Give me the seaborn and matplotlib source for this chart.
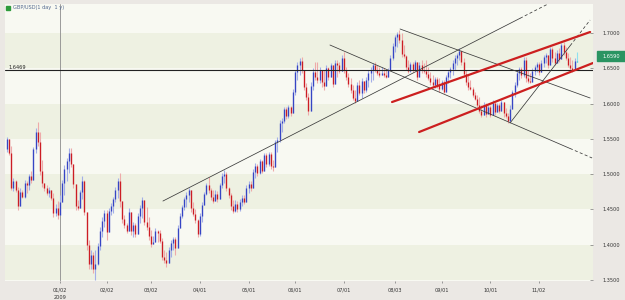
import matplotlib
matplotlib.use("Agg")
import matplotlib.pyplot as plt
import numpy as np
import pandas as pd
import seaborn as sns

# daily GBP/USD bars, 2008-12-01 .. 2009-11-25 (open = previous close)
first_open = 1.535
close = [
    1.550, 1.530, 1.480, 1.490, 1.477, 1.455, 1.475, 1.468, 1.488, 1.485,
    1.497, 1.492, 1.535, 1.560, 1.545, 1.505, 1.488, 1.480, 1.474, 1.478,
    1.466, 1.445, 1.452, 1.442, 1.461, 1.488, 1.508, 1.518, 1.530, 1.514,
    1.486, 1.455, 1.452, 1.475, 1.490, 1.447, 1.400, 1.372, 1.385, 1.365,
    1.372, 1.398, 1.420, 1.433, 1.445, 1.418, 1.448, 1.455, 1.465, 1.478,
    1.490, 1.462, 1.437, 1.428, 1.420, 1.447, 1.420, 1.428, 1.415, 1.440,
    1.452, 1.463, 1.432, 1.425, 1.412, 1.401, 1.404, 1.419, 1.416, 1.405,
    1.383, 1.378, 1.374, 1.393, 1.402, 1.408, 1.396, 1.424, 1.441, 1.453,
    1.465, 1.470, 1.478, 1.452, 1.444, 1.435, 1.415, 1.440, 1.456, 1.472,
    1.485, 1.478, 1.468, 1.462, 1.472, 1.465, 1.484, 1.497, 1.500, 1.480,
    1.470, 1.455, 1.448, 1.458, 1.450, 1.460, 1.466, 1.461, 1.480, 1.486,
    1.481, 1.503, 1.512, 1.502, 1.518, 1.505, 1.527, 1.514, 1.528, 1.512,
    1.510, 1.545, 1.549, 1.573, 1.576, 1.592, 1.583, 1.595, 1.586, 1.617,
    1.645, 1.655, 1.660, 1.647, 1.623, 1.609, 1.590, 1.625, 1.645, 1.638,
    1.633, 1.647, 1.630, 1.625, 1.650, 1.637, 1.654, 1.628, 1.658, 1.655,
    1.646, 1.665, 1.647, 1.637, 1.628, 1.619, 1.608, 1.604, 1.626, 1.615,
    1.632, 1.619, 1.633, 1.644, 1.648, 1.655, 1.648, 1.644, 1.641, 1.643,
    1.641, 1.638, 1.647, 1.665, 1.682, 1.694, 1.698, 1.690, 1.670, 1.668,
    1.652, 1.646, 1.656, 1.648, 1.659, 1.637, 1.655, 1.647, 1.646, 1.642,
    1.636, 1.630, 1.627, 1.635, 1.626, 1.620, 1.630, 1.617, 1.638, 1.645,
    1.649, 1.658, 1.665, 1.669, 1.675, 1.659, 1.642, 1.630, 1.623, 1.621,
    1.612, 1.607, 1.598, 1.590, 1.584, 1.598, 1.585, 1.595, 1.584, 1.601,
    1.588, 1.598, 1.590, 1.602, 1.586, 1.583, 1.575, 1.593, 1.616, 1.627,
    1.644, 1.649, 1.640, 1.662, 1.636, 1.632, 1.631, 1.646, 1.652, 1.656,
    1.645, 1.658, 1.666, 1.669, 1.654, 1.677, 1.664, 1.658, 1.672, 1.663,
    1.683, 1.673, 1.665, 1.655, 1.651, 1.648, 1.661, 1.659,
]
high = [
    1.552, 1.545, 1.540, 1.494, 1.492, 1.482, 1.480, 1.478, 1.492, 1.490,
    1.500, 1.505, 1.539, 1.565, 1.574, 1.560, 1.520, 1.488, 1.484, 1.482,
    1.478, 1.474, 1.458, 1.462, 1.470, 1.492, 1.513, 1.523, 1.537, 1.537,
    1.513, 1.485, 1.464, 1.478, 1.497, 1.492, 1.445, 1.407, 1.392, 1.390,
    1.392, 1.403, 1.425, 1.439, 1.449, 1.449, 1.452, 1.459, 1.468, 1.482,
    1.495, 1.502, 1.459, 1.442, 1.431, 1.452, 1.435, 1.432, 1.431, 1.445,
    1.456, 1.468, 1.446, 1.453, 1.439, 1.421, 1.413, 1.424, 1.421, 1.421,
    1.410, 1.392, 1.390, 1.397, 1.407, 1.411, 1.411, 1.428, 1.445, 1.456,
    1.468, 1.475, 1.480, 1.465, 1.460, 1.450, 1.437, 1.445, 1.461, 1.475,
    1.488, 1.496, 1.480, 1.478, 1.478, 1.476, 1.487, 1.501, 1.506, 1.503,
    1.482, 1.473, 1.463, 1.463, 1.462, 1.465, 1.470, 1.470, 1.484, 1.490,
    1.490, 1.508, 1.516, 1.515, 1.521, 1.520, 1.530, 1.530, 1.532, 1.531,
    1.520, 1.548, 1.553, 1.577, 1.580, 1.595, 1.595, 1.598, 1.597, 1.620,
    1.648, 1.659, 1.665, 1.666, 1.648, 1.629, 1.615, 1.630, 1.650, 1.659,
    1.659, 1.652, 1.648, 1.648, 1.655, 1.652, 1.658, 1.652, 1.662, 1.662,
    1.659, 1.669, 1.673, 1.652, 1.643, 1.636, 1.626, 1.619, 1.630, 1.633,
    1.636, 1.630, 1.638, 1.648, 1.652, 1.658, 1.659, 1.655, 1.652, 1.652,
    1.650, 1.648, 1.650, 1.669, 1.686, 1.697, 1.701, 1.704, 1.700, 1.683,
    1.669, 1.662, 1.659, 1.659, 1.662, 1.659, 1.659, 1.662, 1.657, 1.662,
    1.652, 1.645, 1.641, 1.638, 1.638, 1.636, 1.633, 1.633, 1.641, 1.648,
    1.652, 1.662, 1.669, 1.672, 1.679, 1.676, 1.665, 1.648, 1.641, 1.633,
    1.624, 1.617, 1.612, 1.609, 1.598, 1.602, 1.601, 1.598, 1.598, 1.605,
    1.601, 1.601, 1.601, 1.605, 1.601, 1.594, 1.587, 1.598, 1.619, 1.630,
    1.648, 1.652, 1.652, 1.666, 1.666, 1.648, 1.643, 1.650, 1.655, 1.659,
    1.659, 1.662, 1.669, 1.672, 1.669, 1.680, 1.680, 1.673, 1.676, 1.679,
    1.686, 1.687, 1.680, 1.672, 1.666, 1.662, 1.665, 1.673,
]
low = [
    1.531, 1.527, 1.478, 1.476, 1.475, 1.449, 1.462, 1.466, 1.466, 1.474,
    1.478, 1.488, 1.494, 1.530, 1.540, 1.499, 1.482, 1.476, 1.470, 1.468,
    1.463, 1.439, 1.440, 1.437, 1.442, 1.463, 1.470, 1.490, 1.502, 1.510,
    1.481, 1.449, 1.449, 1.453, 1.465, 1.442, 1.392, 1.365, 1.366, 1.360,
    1.350, 1.371, 1.392, 1.411, 1.425, 1.407, 1.428, 1.442, 1.445, 1.461,
    1.466, 1.453, 1.431, 1.424, 1.417, 1.421, 1.414, 1.411, 1.411, 1.421,
    1.431, 1.438, 1.428, 1.421, 1.407, 1.397, 1.402, 1.405, 1.404, 1.402,
    1.378, 1.374, 1.368, 1.378, 1.383, 1.392, 1.386, 1.400, 1.424, 1.438,
    1.449, 1.453, 1.461, 1.447, 1.440, 1.431, 1.411, 1.412, 1.432, 1.456,
    1.470, 1.473, 1.463, 1.459, 1.462, 1.461, 1.467, 1.480, 1.488, 1.476,
    1.466, 1.449, 1.445, 1.447, 1.446, 1.448, 1.455, 1.458, 1.465, 1.474,
    1.476, 1.488, 1.495, 1.498, 1.500, 1.502, 1.510, 1.510, 1.512, 1.508,
    1.505, 1.525, 1.532, 1.546, 1.560, 1.573, 1.578, 1.580, 1.582, 1.588,
    1.612, 1.633, 1.641, 1.643, 1.619, 1.605, 1.584, 1.598, 1.619, 1.633,
    1.629, 1.629, 1.624, 1.619, 1.631, 1.633, 1.638, 1.623, 1.640, 1.638,
    1.643, 1.648, 1.643, 1.633, 1.624, 1.615, 1.605, 1.601, 1.605, 1.612,
    1.608, 1.615, 1.616, 1.624, 1.631, 1.633, 1.645, 1.641, 1.638, 1.641,
    1.638, 1.636, 1.638, 1.648, 1.662, 1.673, 1.680, 1.686, 1.666, 1.665,
    1.648, 1.643, 1.645, 1.645, 1.650, 1.633, 1.638, 1.643, 1.644, 1.638,
    1.633, 1.626, 1.624, 1.622, 1.622, 1.616, 1.619, 1.615, 1.626, 1.629,
    1.636, 1.641, 1.648, 1.655, 1.662, 1.655, 1.638, 1.626, 1.619, 1.619,
    1.609, 1.605, 1.595, 1.587, 1.581, 1.584, 1.581, 1.588, 1.581, 1.587,
    1.584, 1.588, 1.587, 1.591, 1.581, 1.580, 1.572, 1.575, 1.595, 1.609,
    1.624, 1.633, 1.636, 1.638, 1.631, 1.629, 1.629, 1.633, 1.641, 1.645,
    1.641, 1.648, 1.652, 1.658, 1.650, 1.655, 1.659, 1.655, 1.658, 1.659,
    1.666, 1.669, 1.662, 1.652, 1.648, 1.645, 1.648, 1.659,
]

tick_dates = ["2009-01-02", "2009-02-02", "2009-03-02", "2009-04-01", "2009-05-01",
              "2009-06-01", "2009-07-01", "2009-08-03", "2009-09-01", "2009-10-01",
              "2009-11-02"]
tick_labels = ["01/02", "02/02", "03/02", "04/01", "05/01", "06/01", "07/01",
               "08/03", "09/01", "10/01", "11/02"]
price_ticks = [1.35, 1.40, 1.45, 1.50, 1.55, 1.60, 1.65, 1.70]
shaded_bands = [(1.35, 1.40), (1.45, 1.50), (1.55, 1.60), (1.65, 1.70)]
ref_level = 1.6469
last_price = 1.6590

# drawn trend lines: start bar, start price, end bar, end price, bar where dashes begin
thin_lines = [
    (70.4, 1.4619, 244.0, 1.7411, 231.4),
    (145.7, 1.6830, 263.9, 1.5229, 253.9),
    (177.3, 1.7057, 263.0, 1.6079, None),
    (226.9, 1.5725, 263.0, 1.7184, 254.0),
]
red_lines = [
    (173.7, 1.6022, 263.0, 1.7014),
    (185.9, 1.5597, 264.3, 1.6575),
]

sns.set_theme(style="white")
plt.rcParams["font.family"] = ["DejaVu Sans"]

dates = pd.bdate_range("2008-12-01", periods=len(close))
x = np.arange(len(close))
c = np.array(close)
o = np.concatenate([[first_open], c[:-1]])
hi = np.maximum(np.array(high), np.maximum(o, c))
lo = np.minimum(np.array(low), np.minimum(o, c))
up = c >= o

fig = plt.figure(figsize=(6.25, 3.0), dpi=100, facecolor="#ebe8e4")
ax = fig.add_axes([5 / 625, 19 / 300, 588 / 625, 277 / 300])
ax.set_facecolor("#f8f9f2")
for b0, b1 in shaded_bands:
    ax.axhspan(b0, b1, color="#eef1e2", lw=0, zorder=0)

ax.axvline(dates.get_loc(pd.Timestamp("2009-01-02")), color="#8c8c8c", lw=0.6, zorder=1)
ax.axhline(ref_level, color="#222222", lw=0.8, zorder=3)

# candles: light wick + darker body
wick_col = np.where(up, "#a3aee8", "#eeaaaa")
body_col = np.where(up, "#3645c4", "#cc1d24")
wick_col[-1] = "#8fe0f0"
body_col[-1] = "#2cb8d8"
ax.vlines(x, lo, hi, colors=wick_col, lw=0.8, zorder=2)
ax.vlines(x, np.minimum(o, c), np.maximum(o, c), colors=body_col, lw=0.95, zorder=2)

for x0, p0, x1, p1, xd in thin_lines:
    if xd is None:
        sns.lineplot(x=[x0, x1], y=[p0, p1], ax=ax, color="#3a3a3a", lw=0.55, sort=False, zorder=4)
    else:
        pd_ = p0 + (p1 - p0) * (xd - x0) / (x1 - x0)
        sns.lineplot(x=[x0, xd], y=[p0, pd_], ax=ax, color="#3a3a3a", lw=0.55, sort=False, zorder=4)
        sns.lineplot(x=[xd, x1], y=[pd_, p1], ax=ax, color="#3a3a3a", lw=0.55, sort=False,
                     zorder=4, linestyle=(0, (4, 3)))
for x0, p0, x1, p1 in red_lines:
    sns.lineplot(x=[x0, x1], y=[p0, p1], ax=ax, color="#cc1f1f", lw=1.6, sort=False, zorder=5)

ax.set_xlim(-0.8, 264.3)
ax.set_ylim(1.3486, 1.7411)
for s in ax.spines.values():
    s.set_visible(False)

ax.set_xticks([dates.get_loc(pd.Timestamp(d)) for d in tick_dates])
ax.set_xticklabels(tick_labels, fontsize=3.6, color="#333333")
ax.tick_params(axis="x", bottom=True, direction="out", length=1.6, width=0.5,
               color="#777777", pad=3.2)
ax.yaxis.tick_right()
ax.set_yticks(price_ticks)
ax.set_yticklabels([f"{p:.4f}" for p in price_ticks], fontsize=3.6, color="#333333")
ax.tick_params(axis="y", right=True, direction="in", length=2.0, width=0.5,
               color="#777777", pad=6.5)
ax.set_xlabel("")
ax.set_ylabel("")

ax.text(dates.get_loc(pd.Timestamp("2009-01-02")), -0.058, "2009", transform=ax.get_xaxis_transform(),
        ha="center", va="center", fontsize=3.6, color="#333333")
ax.text(0.006, ref_level, "1.6469", transform=ax.get_yaxis_transform(), ha="left", va="bottom",
        fontsize=3.6, color="#222222")

# title with small green marker
fig.patches.append(plt.Rectangle((6 / 625, 1 - 10 / 300), 4 / 625, 4 / 300, transform=fig.transFigure,
                                 color="#2e9b3c", zorder=10))
fig.text(13 / 625, 1 - 7.5 / 300, "GBP/USD(1 day  1 y)", fontsize=3.6, color="#52688f",
         ha="left", va="center")

# last price box
fig.patches.append(plt.Rectangle((597 / 625, 1 - 61 / 300), 28 / 625, 10 / 300, transform=fig.transFigure,
                                 color="#2a9462", zorder=10))
fig.text(611 / 625, 1 - 56 / 300, f"{last_price:.4f}", fontsize=3.6, color="white",
         ha="center", va="center", zorder=11)

fig.savefig("out.png", dpi=100, facecolor=fig.get_facecolor())
